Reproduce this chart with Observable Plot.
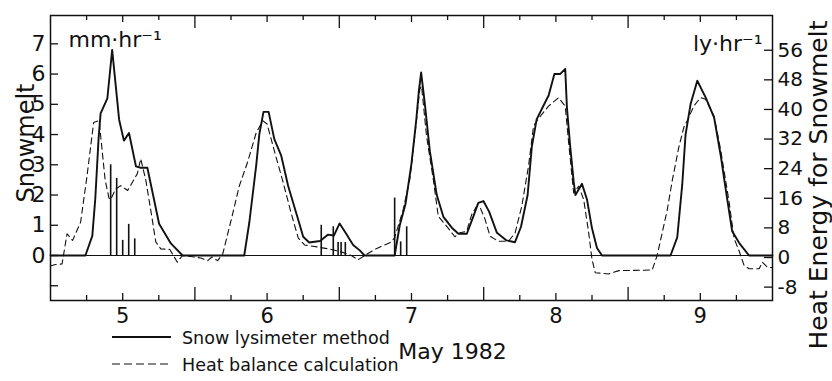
<!DOCTYPE html>
<html><head><meta charset="utf-8">
<script src="https://cdn.jsdelivr.net/npm/d3@7"></script>
<script src="https://cdn.jsdelivr.net/npm/@observablehq/plot@0.6"></script>
<style>
body{margin:0;background:#fff;}
#wrap{position:relative;width:832px;height:381px;font-family:"DejaVu Sans",sans-serif;color:#111;}
#legend{position:absolute;left:0;top:0;width:832px;height:381px;pointer-events:none;}
</style></head><body><div id="wrap"><div id="chart"></div><svg id="legend" width="832" height="381"></svg></div>
<script>
// time in hours since 5 May 00:00; snowmelt in mm/hr
const lysimeter = [[0,0],[5.8,0],[6.95,0.65],[7.45,1.9],[8.0,3.9],[8.33,4.7],[9.45,5.2],[10.25,6.8],[11.4,4.5],[12.2,3.8],[13.05,4.05],[14.2,2.95],[15.0,2.9],[16.1,2.9],[18.05,1.05],[20.0,0.4],[21.95,0],
[32.2,0],[33.05,1.1],[34.2,3.0],[34.7,4.0],[35.4,4.75],[36.25,4.75],[37.2,3.85],[38.35,3.3],[39.5,2.3],[41.0,1.3],[42.0,0.62],[43.0,0.43],[44.8,0.48],[46.1,0.69],[47.1,0.66],[48.05,1.06],[49.2,0.7],[50.3,0.35],[51.4,0.17],[52.2,0],
[57.2,0],[58.05,1.0],[59.0,1.7],[60.0,3.05],[60.8,4.5],[61.2,5.4],[61.6,6.05],[62.2,5.05],[63.05,3.45],[64.2,2.0],[65.3,1.28],[66.7,0.92],[67.8,0.72],[69.2,0.72],[70.3,1.3],[71.1,1.74],[71.95,1.8],[72.9,1.45],[74.2,0.75],[75.8,0.5],[77.2,0.44],
[78.2,0.95],[79.3,2.0],[80.0,3.6],[80.8,4.5],[81.7,4.86],[82.8,5.3],[83.75,6.0],[84.7,6.0],[85.55,6.17],[85.83,4.9],[86.38,3.6],[86.95,2.45],[87.25,2.0],[88.33,2.37],[89.17,1.85],[90.0,0.9],[90.83,0.25],[91.67,0],
[103.05,0],[104.17,0.6],[105.0,2.35],[105.55,4.0],[106.38,5.0],[107.5,5.78],[108.9,5.22],[110.3,4.56],[111.4,3.3],[112.2,2.22],[113.3,0.8],[114.45,0.42],[116.1,0],[120,0]];

const heatBalance = [[0,-0.35],[0.83,-0.3],[1.92,-0.28],[2.75,0.72],[3.67,0.5],[5.0,1.1],[6.05,2.6],[7.17,4.4],[8.08,4.46],[9.08,2.5],[9.72,1.9],[10.0,1.85],[10.83,2.2],[11.67,2.31],[12.83,2.15],[14.42,2.7],[15.0,3.2],[15.83,2.5],[16.67,1.49],[17.5,0.45],[18.33,0.22],[19.83,0.2],[21.08,-0.22],[21.92,0],
[25.0,-0.08],[26.12,-0.17],[26.83,-0.05],[27.78,-0.17],[28.62,0.05],[30.0,1.15],[31.38,2.3],[32.78,3.1],[34.17,4.05],[35.28,4.46],[36.0,4.35],[37.22,3.45],[38.62,2.45],[40.0,1.4],[41.17,0.58],[42.22,0.35],[44.45,0.28],[46.67,0.2],[48.33,0.12],[50.0,0],[51.12,-0.14],[52.22,0],
[53.88,0.2],[55.55,0.35],[56.67,0.45],[57.22,0.6],[58.62,1.52],[59.72,2.52],[60.55,3.95],[61.38,5.5],[61.67,5.6],[62.5,3.95],[63.62,2.52],[64.45,1.3],[65.83,0.97],[67.22,0.62],[68.05,0.75],[69.17,0.8],[70.0,1.35],[70.83,1.63],[71.38,1.6],[72.22,1.2],[73.05,0.64],[74.45,0.47],[76.12,0.47],
[77.22,0.75],[78.33,1.63],[79.45,2.96],[80.28,4.28],[80.83,4.45],[81.67,4.67],[82.78,4.94],[84.45,5.22],[85.55,4.94],[86.12,3.73],[86.95,2.07],[87.78,2.29],[88.62,1.85],[89.45,0.75],[90.0,-0.13],[90.55,-0.57],[92.78,-0.61],[94.45,-0.5],[100.0,-0.48],
[100.83,0],[102.5,1.5],[103.33,2.47],[104.45,3.6],[105.28,4.25],[105.83,4.46],[106.95,4.95],[108.05,5.22],[108.88,5.17],[110.28,4.61],[111.38,3.5],[112.22,2.47],[112.78,1.78],[113.62,0.56],[114.45,0.15],[115.28,-0.33],[116.12,-0.44],[117.78,-0.44],[118.33,-0.22],[119.17,-0.39],[120,-0.4]];

const rainfall = [[10,3.0],[11,2.55],[12,0.5],[13,1.03],[14,0.55],[45,1.0],[47,0.95],[47.8,0.43],[48.3,0.43],[49,0.43],[57.2,1.9],[58.2,0.45],[59.2,0.95]];

const leftTicks = [-1,0,1,2,3,4,5,6,7];
const leftLabels = [0,1,2,3,4,5,6,7];
const rightTicks = [-8,0,8,16,24,32,40,48,56];
const rightLabels = ["-8","0","8","16","24","32","40","48","56"];
const dayLabels = [5,6,7,8,9];
const midnightTicks = [24,48,72,96];
const noonTicks = [12,36,60,84,108];
const quarterTicks = [6,18,30,42,54,66,78,90,102,114];
// right axis (ly/hr) read against the left mm/hr scale
const lyToMm = 0.1224, lyZero = -0.066;
const rightPos = rightTicks.map(v => v * lyToMm + lyZero);

const FW = 722, FH = 285;
const ink = "#111";
const chart = Plot.plot({
  width: 832, height: 381,
  marginLeft: 50, marginRight: 60, marginTop: 15, marginBottom: 81,
  x: {domain: [0, 120], axis: null},
  y: {domain: [-1.488, 7.937], axis: null},
  style: {fontFamily: "DejaVu Sans", background: "white", color: ink},
  marks: [
    Plot.ruleY([0], {stroke: ink, strokeWidth: 1}),
    Plot.ruleX(rainfall, {x: d => d[0], y1: 0, y2: d => d[1], stroke: ink, strokeWidth: 1.6}),
    Plot.line(heatBalance, {x: d => d[0], y: d => d[1], stroke: ink, strokeWidth: 1.1, strokeDasharray: "6,4"}),
    Plot.line(lysimeter, {x: d => d[0], y: d => d[1], stroke: ink, strokeWidth: 1.9}),
    // ticks
    Plot.ruleY(leftTicks, {y: d => d, insetRight: FW - 8, stroke: ink, strokeWidth: 1.3}),
    Plot.ruleY(rightPos, {y: d => d, insetLeft: FW - 8, stroke: ink, strokeWidth: 1.3}),
    Plot.ruleX(midnightTicks, {x: d => d, insetTop: FH - 13, stroke: ink, strokeWidth: 1.3}),
    Plot.ruleX(noonTicks, {x: d => d, insetTop: FH - 7, stroke: ink, strokeWidth: 1.3}),
    Plot.ruleX(quarterTicks, {x: d => d, insetTop: FH - 5, stroke: ink, strokeWidth: 1.3}),
    Plot.ruleX(midnightTicks, {x: d => d, insetBottom: FH - 13, stroke: ink, strokeWidth: 1.3}),
    Plot.ruleX(noonTicks, {x: d => d, insetBottom: FH - 7, stroke: ink, strokeWidth: 1.3}),
    Plot.ruleX(quarterTicks, {x: d => d, insetBottom: FH - 5, stroke: ink, strokeWidth: 1.3}),
    Plot.frame({stroke: ink, strokeWidth: 1.5}),
    // tick labels
    Plot.text(leftLabels, {y: d => d, text: d => String(d), frameAnchor: "left", dx: -5, textAnchor: "end", lineAnchor: "middle", fontSize: 22, fill: ink}),
    Plot.text(rightLabels, {y: (d, i) => rightPos[i], text: d => d, frameAnchor: "right", dx: 5, textAnchor: "start", lineAnchor: "middle", fontSize: 20, fill: ink}),
    Plot.text(dayLabels, {x: d => (d - 5) * 24 + 12, text: d => String(d), frameAnchor: "bottom", dy: 22, lineAnchor: "bottom", fontSize: 21, fill: ink}),
    // axis titles & units
    Plot.text(["Snowmelt"], {frameAnchor: "left", dx: -17, dy: -15, rotate: -90, textAnchor: "middle", lineAnchor: "bottom", fontSize: 24, fill: ink}),
    Plot.text(["Heat Energy for Snowmelt"], {frameAnchor: "right", dx: 54, dy: 27, rotate: -90, textAnchor: "middle", lineAnchor: "bottom", fontSize: 25, fill: ink}),
    Plot.text(["mm·hr⁻¹"], {frameAnchor: "top-left", dx: 18, dy: 31, textAnchor: "start", lineAnchor: "bottom", fontSize: 22, fill: ink}),
    Plot.text(["ly·hr⁻¹"], {frameAnchor: "top-right", dx: -10, dy: 35, textAnchor: "end", lineAnchor: "bottom", fontSize: 22, fill: ink}),
    Plot.text(["May 1982"], {frameAnchor: "bottom", dx: 41, dy: 58, textAnchor: "middle", lineAnchor: "bottom", fontSize: 22, fill: ink})
  ]
});
document.getElementById("chart").append(chart);

// legend
const legendItems = [
  {label: "Snow lysimeter method", dash: null, width: 1.9},
  {label: "Heat balance calculation", dash: "8,4", width: 1.1}
];
const lg = d3.select("#legend");
legendItems.forEach((d, i) => {
  const y = 337 + i * 27;
  lg.append("line").attr("x1", 112).attr("x2", 171).attr("y1", y).attr("y2", y)
    .attr("stroke", ink).attr("stroke-width", d.width).attr("stroke-dasharray", d.dash);
  lg.append("text").attr("x", 182).attr("y", y + 7).attr("font-family", "DejaVu Sans")
    .attr("font-size", 17.5).attr("fill", ink).text(d.label);
});
</script></body></html>
